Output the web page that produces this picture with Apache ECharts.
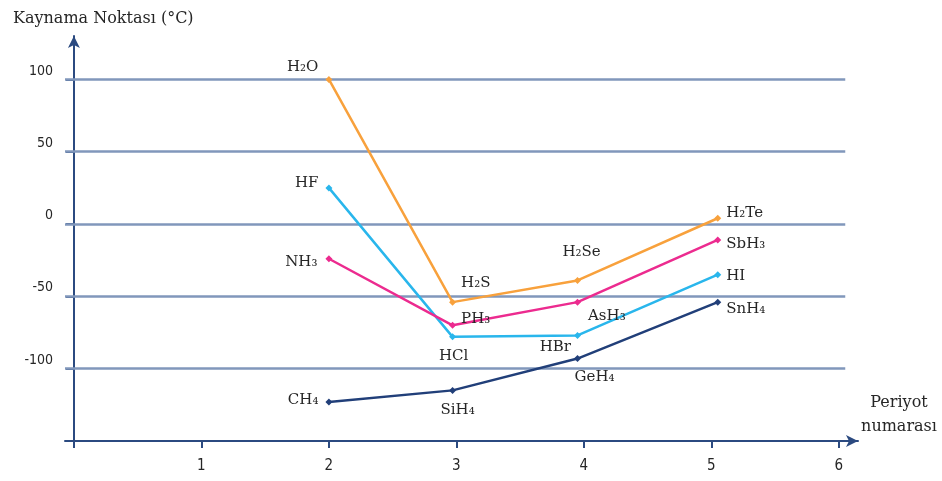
<!DOCTYPE html>
<html><head><meta charset="utf-8">
<script src="https://cdn.jsdelivr.net/npm/echarts@6/dist/echarts.min.js"></script>
<style>html,body{margin:0;padding:0;background:#fff}#c{width:942px;height:481px}</style>
</head><body><div id="c"></div>
<script>
// Data
const periodX = [2, 2.97, 3.95, 5.05];
const yTicks = [-150, -100, -50, 0, 50, 100];
const xTicks = [0, 1, 2, 3, 4, 5, 6];
const xLabels = [1, 2, 3, 4, 5, 6];
const gridValues = [100, 50, 0, -50, -100];

const names16 = ['H₂O', 'H₂S', 'H₂Se', 'H₂Te'];
const values16 = [100, -54, -39, 4];
const names17 = ['HF', 'HCl', 'HBr', 'HI'];
const values17 = [25, -78, -77, -35];
const names15 = ['NH₃', 'PH₃', 'AsH₃', 'SbH₃'];
const values15 = [-24, -70, -54, -11];
const names14 = ['CH₄', 'SiH₄', 'GeH₄', 'SnH₄'];
const values14 = [-123, -115, -93, -54];

// label layout (styling)
const layout16 = [['left', -2, -12], ['right', 0, -19], ['top', 4, -12], ['right', 0, -5]];
const layout17 = [['left', -2, -5], ['bottom', 1, 3], ['left', 2, 12], ['right', 0, 1]];
const layout15 = [['left', -3, 3], ['right', 0, -6], ['right', 2, 14], ['right', 0, 4]];
const layout14 = [['left', -2, -2], ['bottom', 5, 4], ['bottom', 17, 3], ['right', 0, 7]];

const SERIF = 'DejaVu Serif';
const NUM = 'DejaVu Sans Condensed';
function mkSeries(names, vals, lay, color) {
  return {
    type: 'line',
    symbol: 'diamond',
    symbolSize: 7,
    lineStyle: { color: color, width: 2.5 },
    itemStyle: { color: color },
    z: 5,
    data: vals.map((v, i) => ({
      value: [periodX[i], v],
      label: {
        show: true, formatter: names[i], position: lay[i][0],
        offset: [lay[i][1], lay[i][2]], distance: 5,
        color: '#262626', fontFamily: SERIF, fontSize: 15
      }
    }))
  };
}

const chart = echarts.init(document.getElementById('c'));
chart.setOption({
  animation: false,
  title: [
    { text: 'Kaynama Noktası (°C)', left: 8, top: 6,
      textStyle: { fontFamily: SERIF, fontSize: 16, fontWeight: 'normal', color: '#262626' } },
    { text: 'Periyot\nnumarası', left: 894, top: 386, textAlign: 'center',
      textStyle: { fontFamily: SERIF, fontSize: 16, fontWeight: 'normal', color: '#262626', lineHeight: 24 } }
  ],
  grid: { left: 65, right: 84, top: 36, bottom: 40 },
  xAxis: {
    type: 'value', min: -0.07, max: 6.15,
    axisLine: { onZero: false, lineStyle: { color: '#2b4a80', width: 2 }, symbol: ['none', 'arrow'], symbolSize: [9, 12] },
    axisTick: { customValues: xTicks, length: 7, lineStyle: { color: '#2b4a80', width: 2 } },
    axisLabel: { customValues: xLabels, color: '#262626', fontFamily: NUM, fontSize: 15, margin: 18 },
    splitLine: { show: false }
  },
  yAxis: {
    type: 'value', min: -150, max: 130,
    axisLine: { onZero: true, lineStyle: { color: '#2b4a80', width: 2 }, symbol: ['none', 'arrow'], symbolSize: [9, 12] },
    axisTick: { customValues: yTicks, length: 8, lineStyle: { color: '#2b4a80', width: 2 } },
    axisLabel: { customValues: gridValues, color: '#262626', fontFamily: NUM, fontSize: 14, margin: 12,
      verticalAlign: 'bottom', lineHeight: 17 },
    splitLine: { show: false }
  },
  series: [
    {
      type: 'line', data: [], silent: true,
      markLine: {
        silent: true, symbol: 'none', label: { show: false },
        lineStyle: { color: '#8197bb', width: 2.5, type: 'solid' },
        data: gridValues.map(v => [{ coord: [-0.07, v] }, { coord: [6.05, v] }])
      }
    },
    mkSeries(names16, values16, layout16, '#f8a13c'),
    mkSeries(names17, values17, layout17, '#29b6ec'),
    mkSeries(names15, values15, layout15, '#ec2b8f'),
    mkSeries(names14, values14, layout14, '#213f79')
  ]
});
</script></body></html>
